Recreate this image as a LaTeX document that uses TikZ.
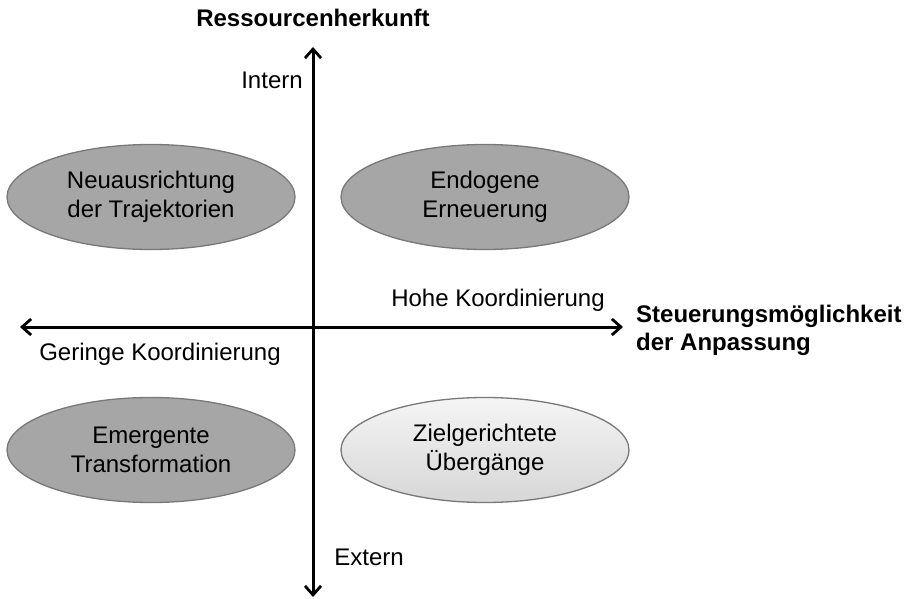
\documentclass[tikz,border=0pt]{standalone}
\usepackage{fontspec}
\setmainfont{Liberation Sans}
\usetikzlibrary{arrows.meta,shapes.geometric}
\definecolor{fillDark}{RGB}{166,166,166}
\definecolor{edgeGray}{RGB}{120,120,120}
\begin{document}
\begin{tikzpicture}[x=1pt,y=-1pt,
  lbl/.style={font=\fontsize{24}{28}\selectfont, inner sep=0pt, align=center},
  boldlbl/.style={font=\fontsize{24}{28}\selectfont\bfseries, inner sep=0pt, align=left},
  field/.style={ellipse, draw=edgeGray, line width=1.3pt, minimum width=288pt, minimum height=105pt,
    inner sep=0pt, align=center, font=\fontsize{24}{28.5}\selectfont},
  darkfield/.style={field, fill=fillDark},
  lightfield/.style={field, top color=gray!8, bottom color=gray!32},
  axis/.style={line width=3pt,
    arrows={Straight Barb[length=9pt,width=16pt,line width=2.8pt]-Straight Barb[length=9pt,width=16pt,line width=2.8pt]}}
]
\useasboundingbox (0,0) rectangle (908,599);

% axis end points
\coordinate (top) at (313,47);
\coordinate (bottom) at (313,597);
\coordinate (left) at (20,327);
\coordinate (right) at (623,327);

\draw[axis] (bottom) -- (top);
\draw[axis] (left) -- (right);

% quadrants
\node[darkfield] (q1) at (151,197) {Neuausrichtung\\der Trajektorien};
\node[darkfield] (q2) at (485,197) {Endogene\\Erneuerung};
\node[darkfield] (q3) at (151,450) {Emergente\\Transformation};
\node[lightfield] (q4) at (485,450) {Zielgerichtete\\Übergänge};

% axis labels
\node[boldlbl] (ytitle) at (313,18) {Ressourcenherkunft};
\node[lbl] (intern) at (272,80) {Intern};
\node[lbl] (extern) at (369,557) {Extern};
\node[lbl] (hohe) at (498,300) {Hohe Koordinierung};
\node[lbl] (geringe) at (160,354) {Geringe Koordinierung};
\node[boldlbl, anchor=west] (xtitle) at (636,330) {Steuerungsmöglichkeit\\der Anpassung};
\end{tikzpicture}
\end{document}
